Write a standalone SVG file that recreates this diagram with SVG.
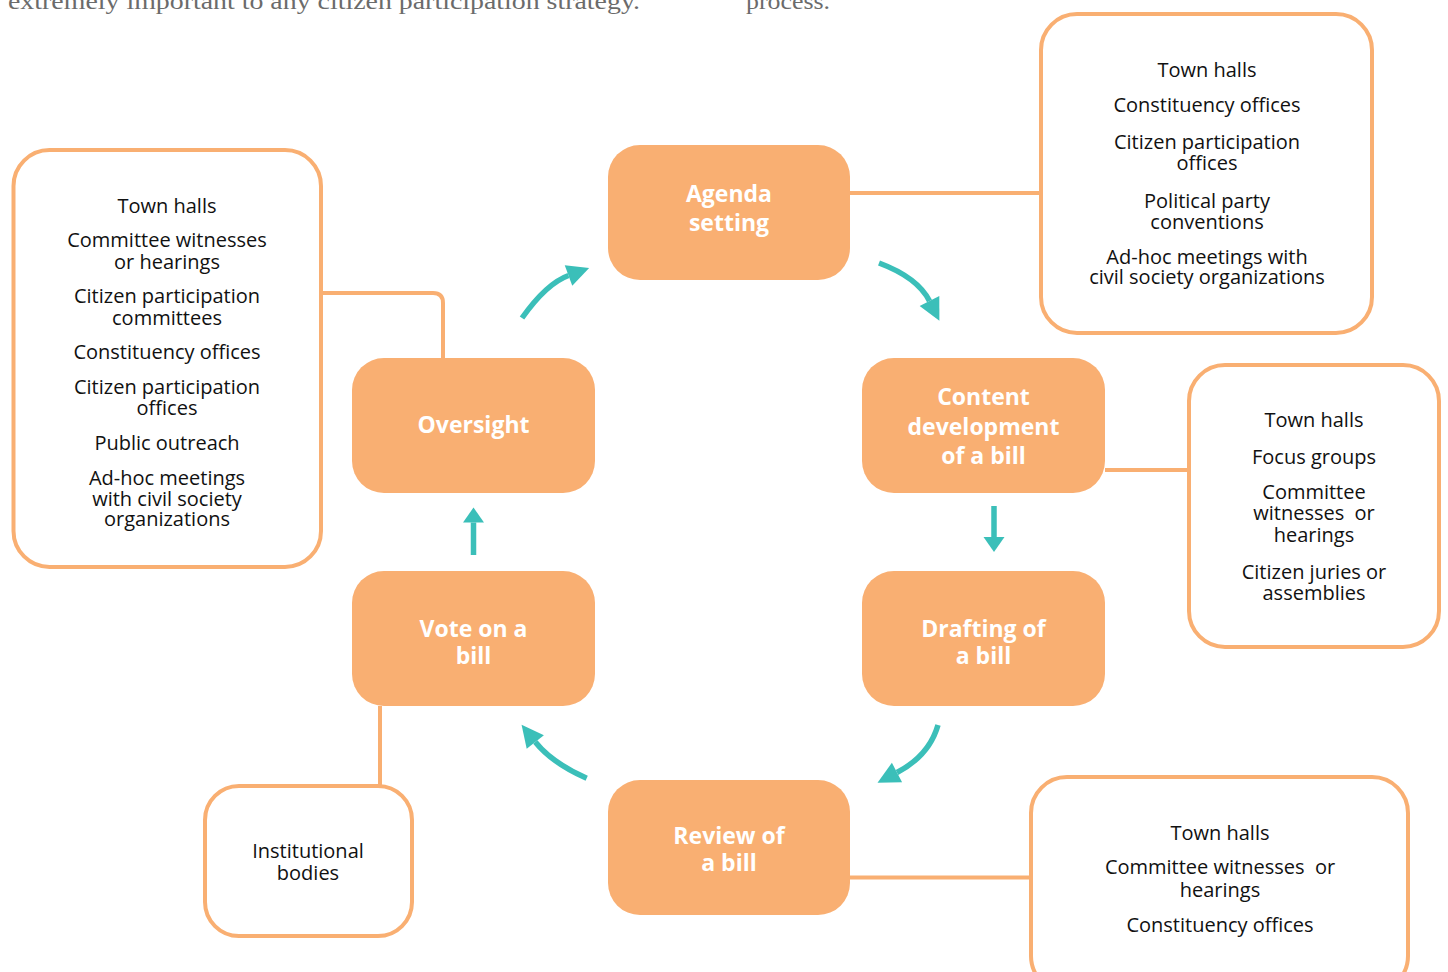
<svg xmlns="http://www.w3.org/2000/svg" width="1448" height="972" viewBox="0 0 1448 972">
<style>
.node{fill:#F9AF72}
.nt{font-family:"Open Sans","Noto Sans",sans-serif;font-weight:700;font-size:23px;fill:#ffffff;text-anchor:middle}
.box{fill:#ffffff;stroke:#F9AF72;stroke-width:4}
.bt{font-family:"Open Sans","Noto Sans",sans-serif;font-size:20px;fill:#111111;text-anchor:middle}
.link{fill:none;stroke:#F9AF72;stroke-width:4}
.arr{fill:none;stroke:#3BBFB9;stroke-width:5.5}
.hd{fill:#3BBFB9}
.hdr{font-family:"Liberation Serif",serif;font-size:23px;fill:#6b6b6b}
</style>
<defs>
<marker id="ahL" markerUnits="userSpaceOnUse" markerWidth="23" markerHeight="22" refX="0" refY="11" orient="auto" overflow="visible"><path class="hd" d="M0,0 L22,11 L0,22 z"/></marker>
<marker id="ahS" markerUnits="userSpaceOnUse" markerWidth="16" markerHeight="22" refX="0" refY="10.5" orient="auto" overflow="visible"><path class="hd" d="M0,0 L15,10.5 L0,21 z"/></marker>
</defs>
<rect width="1448" height="972" fill="#ffffff"/>
<g id="header">
<text class="hdr" x="8" y="9" textLength="632" lengthAdjust="spacingAndGlyphs">extremely important to any citizen participation strategy.</text>
<text class="hdr" x="746" y="9" textLength="84" lengthAdjust="spacingAndGlyphs">process.</text>
</g>
<g id="connectors">
<path class="link" d="M850,193 H1041"/>
<path class="link" d="M321,293 H433 Q443,293 443,303 V358"/>
<path class="link" d="M1105,470 H1189"/>
<path class="link" d="M380,706 V785"/>
<path class="link" d="M850,877.5 H1030"/>
<path class="arr" d="M522,318 Q546.5,283.5 568.5,275.5" marker-end="url(#ahL)"/>
<path class="arr" d="M879,263 Q917.7,277.5 929.5,301" marker-end="url(#ahL)"/>
<path class="arr" d="M994,506 V537" marker-end="url(#ahS)"/>
<path class="arr" d="M938,725 Q929.3,755.6 897,772.5" marker-end="url(#ahL)"/>
<path class="arr" d="M586.7,778.3 Q552,762.9 535.3,742" marker-end="url(#ahL)"/>
<path class="arr" d="M473.5,555 V522.5" marker-end="url(#ahS)"/>
</g>
<g id="agenda">
<rect class="node" x="608" y="145" width="242" height="135" rx="32"/>
<text class="nt" x="729" y="202">Agenda</text>
<text class="nt" x="729" y="231">setting</text>
</g>
<g id="content">
<rect class="node" x="862" y="358" width="243" height="135" rx="32"/>
<text class="nt" x="983.5" y="405">Content</text>
<text class="nt" x="983.5" y="435">development</text>
<text class="nt" x="983.5" y="464">of a bill</text>
</g>
<g id="drafting">
<rect class="node" x="862" y="571" width="243" height="135" rx="32"/>
<text class="nt" x="983.5" y="637">Drafting of</text>
<text class="nt" x="983.5" y="664">a bill</text>
</g>
<g id="review">
<rect class="node" x="608" y="780" width="242" height="135" rx="32"/>
<text class="nt" x="729" y="844">Review of</text>
<text class="nt" x="729" y="871">a bill</text>
</g>
<g id="vote">
<rect class="node" x="352" y="571" width="243" height="135" rx="32"/>
<text class="nt" x="473.5" y="637">Vote on a</text>
<text class="nt" x="473.5" y="664">bill</text>
</g>
<g id="oversight">
<rect class="node" x="352" y="358" width="243" height="135" rx="32"/>
<text class="nt" x="473.5" y="433">Oversight</text>
</g>
<g id="box-oversight">
<rect class="box" x="13.5" y="150" width="307.5" height="417" rx="36"/>
<text class="bt" x="167" y="213">Town halls</text>
<text class="bt" x="167" y="247">Committee witnesses</text>
<text class="bt" x="167" y="268.5">or hearings</text>
<text class="bt" x="167" y="303">Citizen participation</text>
<text class="bt" x="167" y="324.5">committees</text>
<text class="bt" x="167" y="358.5">Constituency offices</text>
<text class="bt" x="167" y="394">Citizen participation</text>
<text class="bt" x="167" y="414.5">offices</text>
<text class="bt" x="167" y="450">Public outreach</text>
<text class="bt" x="167" y="485">Ad-hoc meetings</text>
<text class="bt" x="167" y="505.5">with civil society</text>
<text class="bt" x="167" y="526">organizations</text>
</g>
<g id="box-agenda">
<rect class="box" x="1041" y="14" width="331" height="319" rx="36"/>
<text class="bt" x="1207" y="77">Town halls</text>
<text class="bt" x="1207" y="112">Constituency offices</text>
<text class="bt" x="1207" y="148.5">Citizen participation</text>
<text class="bt" x="1207" y="170">offices</text>
<text class="bt" x="1207" y="208">Political party</text>
<text class="bt" x="1207" y="228.5">conventions</text>
<text class="bt" x="1207" y="263.5">Ad-hoc meetings with</text>
<text class="bt" x="1207" y="284">civil society organizations</text>
</g>
<g id="box-content">
<rect class="box" x="1189" y="365" width="250" height="282" rx="36"/>
<text class="bt" x="1314" y="427">Town halls</text>
<text class="bt" x="1314" y="463.5">Focus groups</text>
<text class="bt" x="1314" y="498.5">Committee</text>
<text class="bt" x="1314" y="520" xml:space="preserve">witnesses  or</text>
<text class="bt" x="1314" y="541.5">hearings</text>
<text class="bt" x="1314" y="579">Citizen juries or</text>
<text class="bt" x="1314" y="600">assemblies</text>
</g>
<g id="box-vote">
<rect class="box" x="205" y="786" width="207" height="150" rx="34"/>
<text class="bt" x="308" y="858">Institutional</text>
<text class="bt" x="308" y="880">bodies</text>
</g>
<g id="box-review">
<rect class="box" x="1031" y="777" width="377" height="215" rx="36"/>
<text class="bt" x="1220" y="839.5">Town halls</text>
<text class="bt" x="1220" y="873.5" xml:space="preserve">Committee witnesses  or</text>
<text class="bt" x="1220" y="897">hearings</text>
<text class="bt" x="1220" y="932">Constituency offices</text>
</g>
</svg>
